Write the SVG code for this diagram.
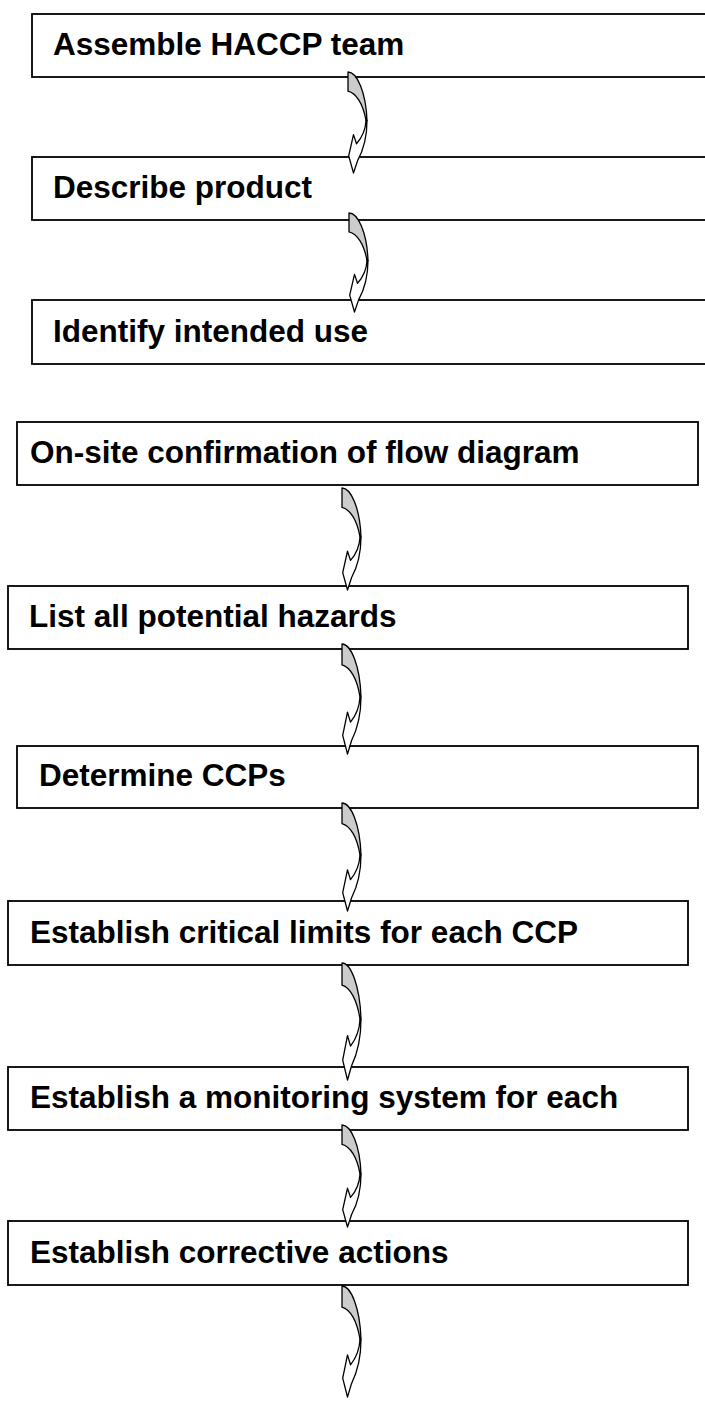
<svg xmlns="http://www.w3.org/2000/svg" xmlns:xlink="http://www.w3.org/1999/xlink" width="705" height="1401" viewBox="0 0 705 1401">
  <style>
    .box { fill: #ffffff; stroke: #000000; stroke-width: 1.8; }
    .lbl { font-family: "Liberation Sans", Arial, sans-serif; font-weight: bold; font-size: 31.5px; fill: #000000; }
    .back { fill: #cccccc; stroke: #000000; stroke-width: 1.3; stroke-linejoin: round; vector-effect: non-scaling-stroke; }
    .front { fill: #ffffff; stroke: #000000; stroke-width: 1.3; stroke-linejoin: round; vector-effect: non-scaling-stroke; }
  </style>
  <defs>
    <!-- curved down arrow, unit size 20 x 100 -->
    <g id="curved-arrow">
      <path class="back" d="M0,19 L0,0 C9,0 18,20 19,48 L18,48 C15,31 8,21 0,19 Z"/>
      <path class="front" d="M18,48 C17.5,58 13,66 8.5,71 L5.5,62 L0.7,83 L5.5,100 L9.5,88 C15,78 19,64 19,48 Z"/>
    </g>
  </defs>
  <rect width="705" height="1401" fill="#ffffff"/>

  <g id="node-assemble">
    <rect class="box" x="32" y="14" width="690" height="63"/>
    <text class="lbl" x="53" y="55">Assemble HACCP team</text>
  </g>
  <g id="node-describe">
    <rect class="box" x="32" y="157" width="690" height="63"/>
    <text class="lbl" x="53" y="198">Describe product</text>
  </g>
  <g id="node-intended-use">
    <rect class="box" x="32" y="300" width="690" height="64"/>
    <text class="lbl" x="53" y="342">Identify intended use</text>
  </g>
  <g id="node-flow-diagram">
    <rect class="box" x="17" y="422" width="681" height="63"/>
    <text class="lbl" x="30" y="463">On-site confirmation of flow diagram</text>
  </g>
  <g id="node-hazards">
    <rect class="box" x="8" y="586" width="680" height="63"/>
    <text class="lbl" x="29" y="627">List all potential hazards</text>
  </g>
  <g id="node-ccps">
    <rect class="box" x="17" y="746" width="681" height="62"/>
    <text class="lbl" x="39" y="786">Determine CCPs</text>
  </g>
  <g id="node-limits">
    <rect class="box" x="8" y="901" width="680" height="64"/>
    <text class="lbl" x="30" y="943">Establish critical limits for each CCP</text>
  </g>
  <g id="node-monitoring">
    <rect class="box" x="8" y="1067" width="680" height="63"/>
    <text class="lbl" x="30" y="1108">Establish a monitoring system for each</text>
  </g>
  <g id="node-corrective">
    <rect class="box" x="8" y="1221" width="680" height="64"/>
    <text class="lbl" x="30" y="1263">Establish corrective actions</text>
  </g>

  <g id="connectors">
    <use xlink:href="#curved-arrow" transform="translate(348,72) scale(1,1.01)"/>
    <use xlink:href="#curved-arrow" transform="translate(349,213) scale(1,0.99)"/>
    <use xlink:href="#curved-arrow" transform="translate(342,488) scale(1,1.02)"/>
    <use xlink:href="#curved-arrow" transform="translate(342,644) scale(1,1.1)"/>
    <use xlink:href="#curved-arrow" transform="translate(342,803) scale(1,1.08)"/>
    <use xlink:href="#curved-arrow" transform="translate(342,963) scale(1,1.17)"/>
    <use xlink:href="#curved-arrow" transform="translate(342,1125) scale(1,1.02)"/>
    <use xlink:href="#curved-arrow" transform="translate(342,1286) scale(1,1.11)"/>
  </g>
</svg>
